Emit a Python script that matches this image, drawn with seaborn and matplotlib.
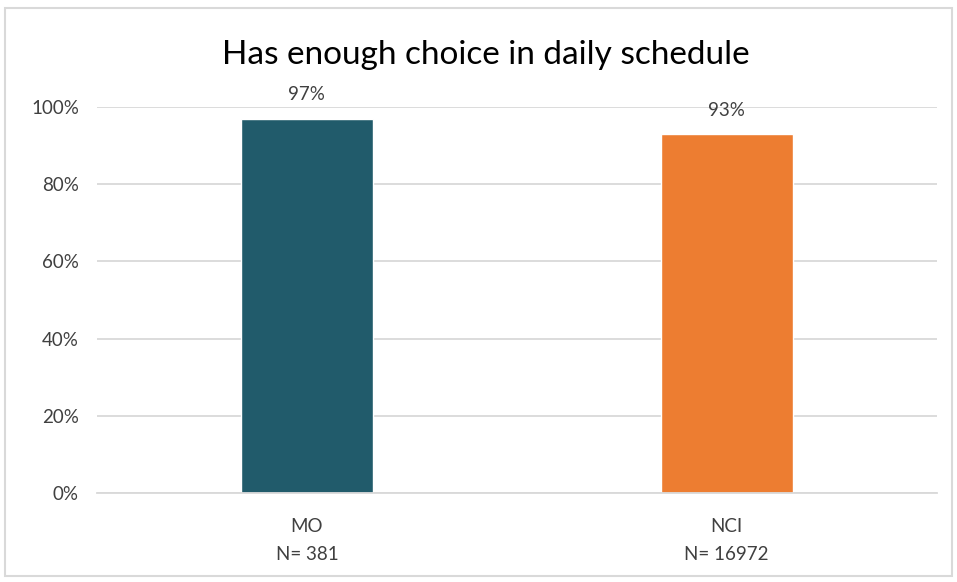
import pandas as pd
import matplotlib.pyplot as plt
import seaborn as sns
from matplotlib.patches import Rectangle
from matplotlib.ticker import PercentFormatter

# Data
groups = ['MO', 'NCI']
sample_sizes = [381, 16972]
shares = [97, 93]
bar_colors = ['#215B6B', '#ED7D31']

df = pd.DataFrame({'group': groups, 'share': shares})
tick_labels = [f'{g}\nN= {n}' for g, n in zip(groups, sample_sizes)]

sns.set_theme(style='white')
plt.rcParams['font.family'] = ['Lato', 'DejaVu Sans']

fig = plt.figure(figsize=(9.57, 5.82), dpi=100)
ax = fig.add_axes([0.1014, 0.1529, 0.8772, 0.6633])

sns.barplot(data=df, x='group', y='share', hue='group', palette=bar_colors,
            width=0.314, legend=False, ax=ax, saturation=1)

ax.set_ylim(0, 100)
ax.set_xlim(-0.5, 1.5)
ax.set_yticks(range(0, 101, 20))
ax.yaxis.set_major_formatter(PercentFormatter(decimals=0))
ax.set_xticks(range(len(groups)))
ax.set_xticklabels(tick_labels, fontsize=13.5, color='#404040', linespacing=1.8)
ax.tick_params(axis='y', labelsize=13.5, labelcolor='#404040', pad=13, length=0)
ax.tick_params(axis='x', pad=18, length=0)
ax.grid(axis='y', color='#D9D9D9', linewidth=1.3)
ax.set_axisbelow(True)
for side in ['left', 'right', 'top']:
    ax.spines[side].set_visible(False)
ax.spines['bottom'].set_color('#D9D9D9')
ax.spines['bottom'].set_linewidth(1.3)
ax.set_xlabel('')
ax.set_ylabel('')

for container in ax.containers:
    ax.bar_label(container, fmt='%g%%', padding=11, fontsize=13.5, color='#404040')

fig.text(0.508, 0.905, 'Has enough choice in daily schedule', ha='center', va='center',
         fontsize=24, color='#000000')

# light chart frame
fig.patches.append(Rectangle((5 / 957, 0.01), 0.99, 0.976, transform=fig.transFigure,
                             fill=False, edgecolor='#D9D9D9', linewidth=1.5))

fig.savefig('out.png', dpi=100)
